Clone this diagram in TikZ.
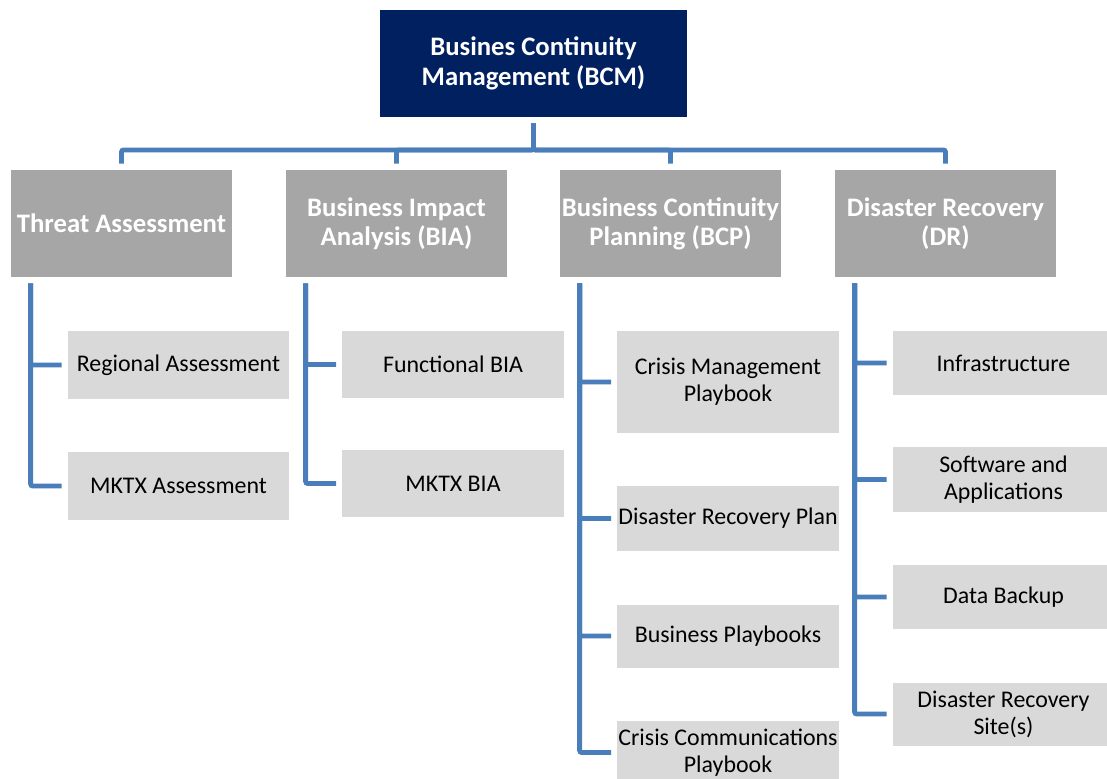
\documentclass[tikz,border=0pt]{standalone}
\usepackage{fontspec}
\setmainfont{Carlito}
\definecolor{bcmnavy}{RGB}{0,32,96}
\definecolor{areagray}{RGB}{166,166,166}
\definecolor{taskgray}{RGB}{217,217,217}
\definecolor{linkblue}{RGB}{74,126,187}
\tikzstyle{box} = [rectangle, align=center, inner sep=0pt, minimum width=5.525cm]
\tikzstyle{root} = [box, fill=bcmnavy, text=white, font=\fontsize{19}{21.5}\selectfont\bfseries, minimum width=7.675cm, minimum height=2.675cm]
\tikzstyle{area} = [box, fill=areagray, text=white, font=\fontsize{19}{20.5}\selectfont\bfseries, minimum height=2.675cm]
\tikzstyle{task} = [box, fill=taskgray, font=\fontsize{17}{19.2}\selectfont]
\tikzstyle{link} = [draw=linkblue, line width=3.5pt, rounded corners=1.5pt]

\begin{document}
\begin{tikzpicture}[x=0.025cm, y=-0.025cm]
    \useasboundingbox (0,0) rectangle (1107,778);

    \node (bcm) [root] at (533.5,63.5) {Busines Continuity\\Management (BCM)};

    \node (threat) [area] at (121.5,223.5) {Threat Assessment};
    \node (bia) [area] at (396.5,223.5) {Business Impact\\Analysis (BIA)};
    \node (bcp) [area] at (670.5,223.5) {Business Continuity\\Planning (BCP)};
    \node (dr) [area] at (945.5,223.5) {Disaster Recovery\\(DR)};

    \node (regional) [task, minimum height=1.675cm] at (178.5,365) {Regional Assessment};
    \node (mktxa) [task, minimum height=1.675cm] at (178.5,486) {MKTX Assessment};

    \node (functional) [task, minimum height=1.65cm] at (453,364.5) {Functional BIA};
    \node (mktxb) [task, minimum height=1.65cm] at (453,483.5) {MKTX BIA};

    \node (crisis) [task, minimum height=2.525cm] at (728,382) {Crisis Management\\Playbook};
    \node (drp) [task, minimum height=1.6cm] at (728,518.5) {Disaster Recovery Plan};
    \node (playbooks) [task, minimum height=1.575cm] at (728,636) {Business Playbooks};
    \node (comms) [task, minimum height=1.575cm] at (728,752.5) {Crisis Communications\\Playbook};

    \node (infra) [task, minimum height=1.575cm] at (1003.5,363) {Infrastructure};
    \node (software) [task, minimum height=1.6cm] at (1003.5,479.5) {Software and\\Applications};
    \node (backup) [task, minimum height=1.6cm] at (1003.5,597) {Data Backup};
    \node (site) [task, minimum height=1.575cm] at (1003.5,714) {Disaster Recovery\\Site(s)};

    % Top bus.
    \coordinate (bus) at (0,150);
    \foreach \n in {threat, bia, bcp, dr} {
        \draw [link] ([yshift=-0.15cm]bcm.south) -- (bcm.south |- bus) -| ([yshift=0.15cm]\n.north);
    }

    % Branches.
    \foreach \a/\leaves in {threat/{regional,mktxa}, bia/{functional,mktxb}, bcp/{crisis,drp,playbooks,comms}, dr/{infra,software,backup,site}} {
        \foreach \t in \leaves {
            \draw [link] ([xshift=0.5cm, yshift=-0.15cm]\a.south west) |- ([xshift=-0.15cm]\t.west);
        }
    }
\end{tikzpicture}
\end{document}
